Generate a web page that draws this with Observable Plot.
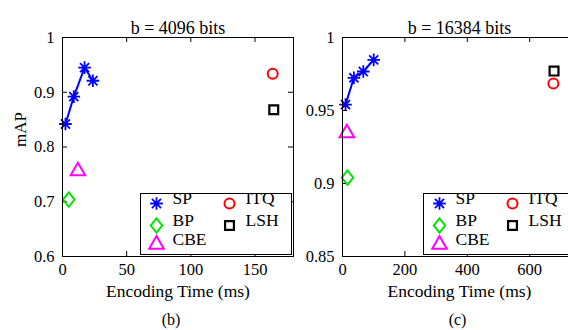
<!DOCTYPE html>
<html>
<head>
<meta charset="utf-8">
<script src="https://cdn.jsdelivr.net/npm/d3@7"></script>
<script src="https://cdn.jsdelivr.net/npm/@observablehq/plot@0.6"></script>
<style>
  html, body { margin: 0; padding: 0; background: #fff; overflow: hidden; }
  #wrap { position: relative; width: 568px; height: 330px; overflow: hidden; }
  #wrap > div, #wrap > svg { position: absolute; top: 0; }
</style>
</head>
<body>
<div id="wrap"></div>
<script>
// ---------- data ----------
const methods = ["SP", "BP", "CBE", "ITQ", "LSH"];
const methodColors = ["#0000ff", "#00e600", "#ff00ff", "#ff0000", "#000000"];

// panel (b): b = 4096 bits
const spTime4096 = [2.3, 8.8, 17.2, 23.7];
const spMAP4096 = [0.842, 0.892, 0.945, 0.921];
const otherTime4096 = [4.9, 12.0, 163.8, 164.6];   // BP, CBE, ITQ, LSH
const otherMAP4096 = [0.704, 0.756, 0.934, 0.868];
const xTicks4096 = [0, 50, 100, 150];
const yTicks4096 = [0.6, 0.7, 0.8, 0.9, 1];

// panel (c): b = 16384 bits
const spTime16384 = [9.7, 36.5, 66.6, 100];
const spMAP16384 = [0.954, 0.9724, 0.9767, 0.9847];
const otherTime16384 = [16, 14, 676, 678];          // BP, CBE, ITQ, LSH
const otherMAP16384 = [0.904, 0.9345, 0.9685, 0.977];
const xTicks16384 = [0, 200, 400, 600];
const yTicks16384 = [0.85, 0.9, 0.95, 1];

// ---------- symbols ----------
const star8 = {draw(ctx, size) {
  const r = Math.sqrt(size / Math.PI), d = r * 0.72;
  ctx.moveTo(-r, 0); ctx.lineTo(r, 0); ctx.moveTo(0, -r); ctx.lineTo(0, r);
  ctx.moveTo(-d, -d); ctx.lineTo(d, d); ctx.moveTo(-d, d); ctx.lineTo(d, -d);
}};
const diamondWide = {draw(ctx, size) {
  const r = Math.sqrt(size / Math.PI), h = r * 1.31, w = r * 1.04;
  ctx.moveTo(0, -h); ctx.lineTo(w, 0); ctx.lineTo(0, h); ctx.lineTo(-w, 0); ctx.closePath();
}};
const symbolSpec = {
  SP: {symbol: star8, r: 6.3, sw: 1.8},
  BP: {symbol: diamondWide, r: 5.5, sw: 2},
  CBE: {symbol: "triangle", r: 5.4, sw: 2},
  ITQ: {symbol: "circle", r: 5, sw: 2},
  LSH: {symbol: "square", r: 5, sw: 2.2}
};
const colorOf = m => methodColors[methods.indexOf(m)];

function panel({title, tag, spT, spM, oT, oM, xTicks, yTicks, xDomain, yDomain,
                width, marginLeft, marginRight, yLabel, tagDx, fmtY}) {
  const height = 330, marginTop = 37, marginBottom = 74;
  const fw = width - marginLeft - marginRight, fh = height - marginTop - marginBottom;
  const sp = spT.map((t, i) => ({t, m: spM[i]}));
  const others = oT.map((t, i) => ({method: methods[i + 1], t, m: oM[i]}));
  const marks = [];
  // inward ticks
  marks.push(Plot.tickX(xTicks, {x: d => d, insetTop: fh - 5, stroke: "black", strokeWidth: 1}));
  marks.push(Plot.tickX(xTicks, {x: d => d, insetBottom: fh - 5, stroke: "black", strokeWidth: 1}));
  marks.push(Plot.tickY(yTicks, {y: d => d, insetRight: fw - 5, stroke: "black", strokeWidth: 1}));
  marks.push(Plot.tickY(yTicks, {y: d => d, insetLeft: fw - 5, stroke: "black", strokeWidth: 1}));
  marks.push(Plot.axisX({ticks: xTicks, tickSize: 0, tickPadding: 7, label: null, fontSize: 16.5}));
  marks.push(Plot.axisY({ticks: yTicks, tickSize: 0, tickPadding: 8, label: null, fontSize: 16.5, tickFormat: fmtY}));
  // SP line + markers
  marks.push(Plot.line(sp, {x: "t", y: "m", stroke: colorOf("SP"), strokeWidth: 2}));
  marks.push(Plot.dot(sp, {x: "t", y: "m", symbol: () => symbolSpec.SP.symbol, r: symbolSpec.SP.r,
    fill: "none", stroke: colorOf("SP"), strokeWidth: symbolSpec.SP.sw}));
  for (const o of others) {
    const s = symbolSpec[o.method];
    marks.push(Plot.dot([o], {x: "t", y: "m", symbol: () => s.symbol, r: s.r, fill: "none",
      stroke: colorOf(o.method), strokeWidth: s.sw}));
  }
  // legend box
  const lw = 151, lh = 61, lr = 2, lb = 2;
  marks.push(Plot.frame({insetLeft: fw - lw - lr, insetTop: fh - lh - lb, insetRight: lr, insetBottom: lb,
    fill: "white", stroke: "black", strokeWidth: 1}));
  const legendPos = {SP: [16, 10], BP: [16, 32], CBE: [16, 51], ITQ: [89, 10], LSH: [89, 32]};
  for (const m of methods) {
    const s = symbolSpec[m];
    const [lx, ly] = legendPos[m];
    const dx = -(lw + lr) + lx, dy = -(lh + lb) + ly;
    marks.push(Plot.dot([m], {frameAnchor: "bottom-right", dx, dy, symbol: () => s.symbol, r: s.r,
      fill: "none", stroke: colorOf(m), strokeWidth: s.sw}));
    marks.push(Plot.text([m], {frameAnchor: "bottom-right", dx: dx + 16, dy, text: d => d,
      textAnchor: "start", fontSize: 17.5, fill: "black"}));
  }
  marks.push(Plot.frame({stroke: "black", strokeWidth: 1}));
  // titles and labels
  marks.push(Plot.text([title], {frameAnchor: "top", dy: -16, text: d => d, fontSize: 18, fill: "black"}));
  marks.push(Plot.text(["Encoding Time (ms)"], {frameAnchor: "bottom", dy: 40, text: d => d, fontSize: 17.5, fill: "black"}));
  marks.push(Plot.text([tag], {frameAnchor: "bottom", dy: 68, dx: tagDx, text: d => d, fontSize: 16, fill: "black"}));
  if (yLabel) marks.push(Plot.text([yLabel], {frameAnchor: "left", dx: -42, rotate: -90, text: d => d, fontSize: 17, fill: "black"}));
  return Plot.plot({
    width, height, marginTop, marginBottom, marginLeft, marginRight,
    style: {fontFamily: "'Liberation Serif', 'DejaVu Serif', serif", fontSize: "16.5px", background: "transparent", color: "black", overflow: "visible"},
    x: {domain: xDomain},
    y: {domain: yDomain},
    marks
  });
}

const p1 = panel({title: "b = 4096 bits", tag: "(b)", spT: spTime4096, spM: spMAP4096,
  oT: otherTime4096, oM: otherMAP4096, xTicks: xTicks4096, yTicks: yTicks4096,
  xDomain: [0, 180], yDomain: [0.6, 1], width: 300, marginLeft: 62, marginRight: 7,
  yLabel: "mAP", tagDx: -7, fmtY: d => String(d)});
const p2 = panel({title: "b = 16384 bits", tag: "(c)", spT: spTime16384, spM: spMAP16384,
  oT: otherTime16384, oM: otherMAP16384, xTicks: xTicks16384, yTicks: yTicks16384,
  xDomain: [0, 750], yDomain: [0.85, 1], width: 276, marginLeft: 42, marginRight: 0,
  yLabel: null, tagDx: -2, fmtY: d => String(d)});
const wrap = document.getElementById("wrap");
p1.style.left = "0px";
p2.style.left = "300px";
wrap.appendChild(p1);
wrap.appendChild(p2);
</script>
</body>
</html>
